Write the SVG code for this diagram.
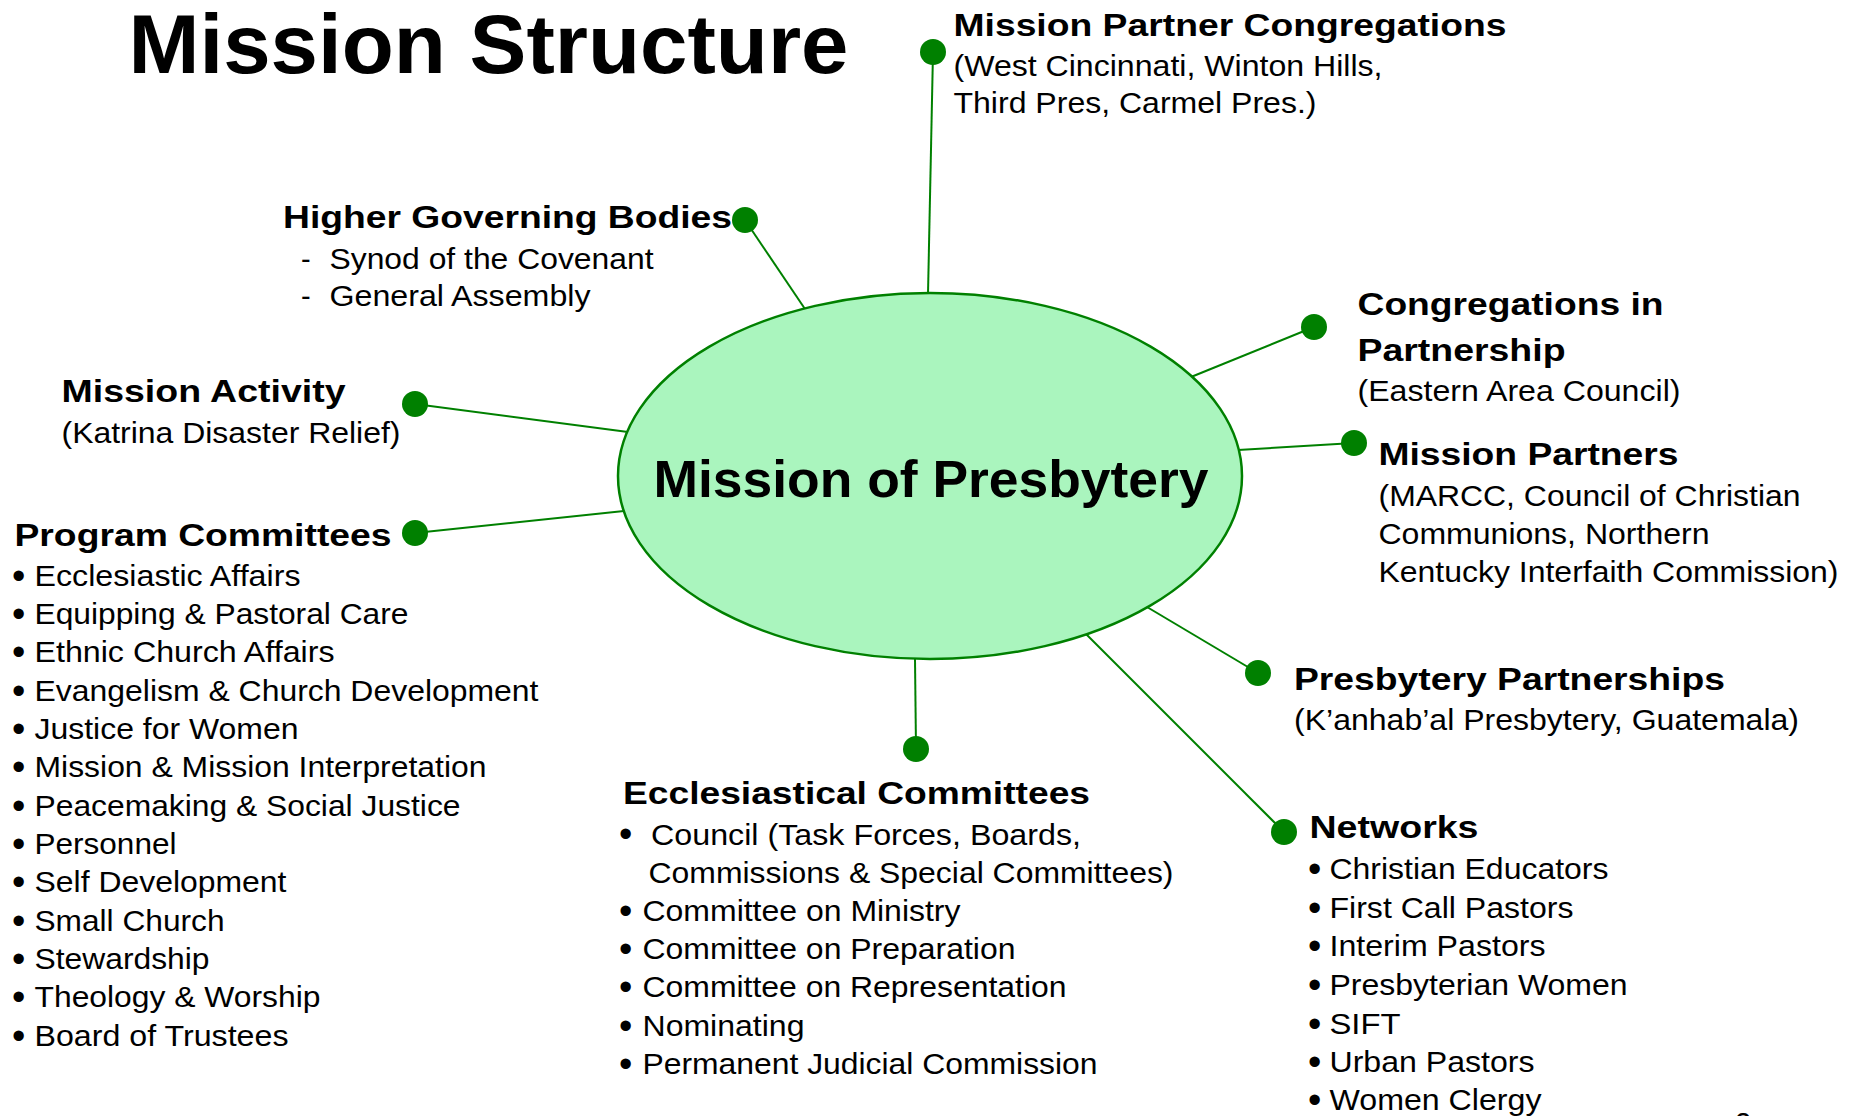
<svg xmlns="http://www.w3.org/2000/svg" width="1858" height="1116" viewBox="0 0 1858 1116">
<style>
text{font-family:"Liberation Sans",Arial,sans-serif;fill:#000}
.ttl{font-size:84px;font-weight:bold}
.ctr{font-size:52px;font-weight:bold}
.h{font-size:31px;font-weight:bold}
.t{font-size:29px}
.b{font-size:38px}
.dot{fill:#008000}
.con line{stroke:#008000;stroke-width:2}
</style>
<rect width="1858" height="1116" fill="#fff"/>
<text id="title" class="ttl" x="128.5" y="73" textLength="720" lengthAdjust="spacingAndGlyphs">Mission Structure</text>
<g id="connectors" class="con">
<line x1="933" y1="52" x2="928" y2="294"/>
<line x1="745" y1="220" x2="805" y2="309"/>
<line x1="415" y1="404" x2="628" y2="432"/>
<line x1="415" y1="533" x2="624" y2="511"/>
<line x1="1314" y1="327" x2="1191" y2="377"/>
<line x1="1354" y1="443" x2="1238" y2="450"/>
<line x1="1258" y1="673" x2="1147" y2="607"/>
<line x1="1284" y1="832" x2="1086" y2="634"/>
<line x1="916" y1="749" x2="915" y2="659"/>
</g>
<g id="mission-of-presbytery">
<ellipse cx="930" cy="476" rx="312" ry="183" fill="#AAF5BE" stroke="#008000" stroke-width="2.5"/>
<text class="ctr" x="653.5" y="497" textLength="555" lengthAdjust="spacingAndGlyphs">Mission of Presbytery</text>
</g>
<g id="mission-partner-congregations">
<circle class="dot" cx="933" cy="52" r="13"/>
<text class="h" x="953.5" y="36" textLength="553" lengthAdjust="spacingAndGlyphs">Mission Partner Congregations</text>
<text class="t" x="953.5" y="76" textLength="429" lengthAdjust="spacingAndGlyphs">(West Cincinnati, Winton Hills,</text>
<text class="t" x="953.5" y="113" textLength="363" lengthAdjust="spacingAndGlyphs">Third Pres, Carmel Pres.)</text>
</g>
<g id="higher-governing-bodies">
<circle class="dot" cx="745" cy="220" r="13"/>
<text class="h" x="283" y="228" textLength="449" lengthAdjust="spacingAndGlyphs">Higher Governing Bodies</text>
<text class="t" x="301" y="269">-</text>
<text class="t" x="329.5" y="269" textLength="324" lengthAdjust="spacingAndGlyphs">Synod of the Covenant</text>
<text class="t" x="301" y="306">-</text>
<text class="t" x="329.5" y="306" textLength="261" lengthAdjust="spacingAndGlyphs">General Assembly</text>
</g>
<g id="congregations-in-partnership">
<circle class="dot" cx="1314" cy="327" r="13"/>
<text class="h" x="1357.5" y="315" textLength="306" lengthAdjust="spacingAndGlyphs">Congregations in</text>
<text class="h" x="1357.5" y="361" textLength="208" lengthAdjust="spacingAndGlyphs">Partnership</text>
<text class="t" x="1357.5" y="401" textLength="323" lengthAdjust="spacingAndGlyphs">(Eastern Area Council)</text>
</g>
<g id="mission-activity">
<circle class="dot" cx="415" cy="404" r="13"/>
<text class="h" x="61.5" y="402" textLength="284" lengthAdjust="spacingAndGlyphs">Mission Activity</text>
<text class="t" x="61.5" y="443" textLength="339" lengthAdjust="spacingAndGlyphs">(Katrina Disaster Relief)</text>
</g>
<g id="mission-partners">
<circle class="dot" cx="1354" cy="443" r="13"/>
<text class="h" x="1378.5" y="465" textLength="300" lengthAdjust="spacingAndGlyphs">Mission Partners</text>
<text class="t" x="1378.5" y="506" textLength="422" lengthAdjust="spacingAndGlyphs">(MARCC, Council of Christian</text>
<text class="t" x="1378.5" y="544" textLength="331" lengthAdjust="spacingAndGlyphs">Communions, Northern</text>
<text class="t" x="1378.5" y="582" textLength="460" lengthAdjust="spacingAndGlyphs">Kentucky Interfaith Commission)</text>
</g>
<g id="program-committees">
<circle class="dot" cx="415" cy="533" r="13"/>
<text class="h" x="14.5" y="546" textLength="377" lengthAdjust="spacingAndGlyphs">Program Committees</text>
<text class="b" x="12" y="589">•</text><text class="t" x="34.5" y="586" textLength="266" lengthAdjust="spacingAndGlyphs">Ecclesiastic Affairs</text>
<text class="b" x="12" y="627">•</text><text class="t" x="34.5" y="624" textLength="374" lengthAdjust="spacingAndGlyphs">Equipping &amp; Pastoral Care</text>
<text class="b" x="12" y="665">•</text><text class="t" x="34.5" y="662" textLength="300" lengthAdjust="spacingAndGlyphs">Ethnic Church Affairs</text>
<text class="b" x="12" y="703.5">•</text><text class="t" x="34.5" y="700.5" textLength="504" lengthAdjust="spacingAndGlyphs">Evangelism &amp; Church Development</text>
<text class="b" x="12" y="741.5">•</text><text class="t" x="34.5" y="738.5" textLength="264" lengthAdjust="spacingAndGlyphs">Justice for Women</text>
<text class="b" x="12" y="780">•</text><text class="t" x="34.5" y="777" textLength="452" lengthAdjust="spacingAndGlyphs">Mission &amp; Mission Interpretation</text>
<text class="b" x="12" y="818.5">•</text><text class="t" x="34.5" y="815.5" textLength="426" lengthAdjust="spacingAndGlyphs">Peacemaking &amp; Social Justice</text>
<text class="b" x="12" y="857">•</text><text class="t" x="34.5" y="854" textLength="142" lengthAdjust="spacingAndGlyphs">Personnel</text>
<text class="b" x="12" y="895">•</text><text class="t" x="34.5" y="892" textLength="252" lengthAdjust="spacingAndGlyphs">Self Development</text>
<text class="b" x="12" y="933.5">•</text><text class="t" x="34.5" y="930.5" textLength="190" lengthAdjust="spacingAndGlyphs">Small Church</text>
<text class="b" x="12" y="971.5">•</text><text class="t" x="34.5" y="968.5" textLength="175" lengthAdjust="spacingAndGlyphs">Stewardship</text>
<text class="b" x="12" y="1010">•</text><text class="t" x="34.5" y="1007" textLength="286" lengthAdjust="spacingAndGlyphs">Theology &amp; Worship</text>
<text class="b" x="12" y="1048.5">•</text><text class="t" x="34.5" y="1045.5" textLength="254" lengthAdjust="spacingAndGlyphs">Board of Trustees</text>
</g>
<g id="presbytery-partnerships">
<circle class="dot" cx="1258" cy="673" r="13"/>
<text class="h" x="1294" y="690" textLength="431" lengthAdjust="spacingAndGlyphs">Presbytery Partnerships</text>
<text class="t" x="1294" y="730" textLength="505" lengthAdjust="spacingAndGlyphs">(K’anhab’al Presbytery, Guatemala)</text>
</g>
<g id="ecclesiastical-committees">
<circle class="dot" cx="916" cy="749" r="13"/>
<text class="h" x="623" y="804" textLength="467" lengthAdjust="spacingAndGlyphs">Ecclesiastical Committees</text>
<text class="b" x="619" y="847">•</text><text class="t" x="651" y="845" textLength="430" lengthAdjust="spacingAndGlyphs">Council (Task Forces, Boards,</text>
<text class="t" x="648.5" y="883" textLength="525" lengthAdjust="spacingAndGlyphs">Commissions &amp; Special Committees)</text>
<text class="b" x="619" y="924">•</text><text class="t" x="642.5" y="921" textLength="318" lengthAdjust="spacingAndGlyphs">Committee on Ministry</text>
<text class="b" x="619" y="962">•</text><text class="t" x="642.5" y="959" textLength="373" lengthAdjust="spacingAndGlyphs">Committee on Preparation</text>
<text class="b" x="619" y="1000">•</text><text class="t" x="642.5" y="997" textLength="424" lengthAdjust="spacingAndGlyphs">Committee on Representation</text>
<text class="b" x="619" y="1039">•</text><text class="t" x="642.5" y="1036" textLength="162" lengthAdjust="spacingAndGlyphs">Nominating</text>
<text class="b" x="619" y="1077">•</text><text class="t" x="642.5" y="1074" textLength="455" lengthAdjust="spacingAndGlyphs">Permanent Judicial Commission</text>
</g>
<g id="networks">
<circle class="dot" cx="1284" cy="832" r="13"/>
<text class="h" x="1309.5" y="838" textLength="169" lengthAdjust="spacingAndGlyphs">Networks</text>
<text class="b" x="1308" y="882">•</text><text class="t" x="1329.5" y="879" textLength="279" lengthAdjust="spacingAndGlyphs">Christian Educators</text>
<text class="b" x="1308" y="921">•</text><text class="t" x="1329.5" y="918" textLength="244" lengthAdjust="spacingAndGlyphs">First Call Pastors</text>
<text class="b" x="1308" y="959">•</text><text class="t" x="1329.5" y="956" textLength="216" lengthAdjust="spacingAndGlyphs">Interim Pastors</text>
<text class="b" x="1308" y="998">•</text><text class="t" x="1329.5" y="995" textLength="298" lengthAdjust="spacingAndGlyphs">Presbyterian Women</text>
<text class="b" x="1308" y="1037">•</text><text class="t" x="1329.5" y="1034" textLength="71" lengthAdjust="spacingAndGlyphs">SIFT</text>
<text class="b" x="1308" y="1075">•</text><text class="t" x="1329.5" y="1072" textLength="205" lengthAdjust="spacingAndGlyphs">Urban Pastors</text>
<text class="b" x="1308" y="1113">•</text><text class="t" x="1329.5" y="1110" textLength="212" lengthAdjust="spacingAndGlyphs">Women Clergy</text>
</g>
<text id="page-number" class="t" x="1735" y="1133">2</text>
</svg>
